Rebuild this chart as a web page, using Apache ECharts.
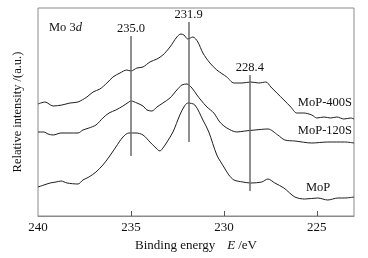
<!DOCTYPE html>
<html>
<head>
<meta charset="utf-8">
<script src="https://cdn.jsdelivr.net/npm/echarts@6/dist/echarts.min.js"></script>
<style>
  html, body { margin: 0; padding: 0; background: #fff; }
  #main { width: 368px; height: 258px; }
</style>
</head>
<body>
<div id="main"></div>
<script>
// 结合能 (eV) 与相对强度 (任意单位)
var e400 = [240.00, 239.62, 239.19, 238.71, 238.28, 237.85, 237.37, 237.04, 236.67, 236.29, 235.97, 235.59, 235.22, 235.00,
            234.68, 234.35, 233.98, 233.60, 233.28, 232.90, 232.53, 232.31, 232.15, 231.94, 231.67, 231.40, 231.13, 230.75,
            230.38, 229.84, 229.46, 229.03, 228.55, 228.12, 227.74, 227.47, 227.15, 226.77, 226.40, 226.08, 225.70, 225.27,
            225.00, 224.62, 224.25, 223.92, 223.55, 223.17, 223.00];
var i400 = [112, 114, 110, 111, 113, 114, 119, 124, 127, 133, 139, 143, 146, 145,
            148, 149, 154, 157, 161, 169, 179, 182, 181, 177, 179, 174, 163, 153,
            146, 139, 133, 133, 134, 133, 134, 129, 123, 116, 109, 103, 103, 101,
            98, 99, 98, 99, 97, 98, 97];

var e120 = [240.00, 239.68, 239.46, 239.19, 238.76, 238.33, 237.85, 237.58, 237.26, 236.88, 236.51, 236.18, 235.81, 235.43,
            235.11, 235.00, 234.68, 234.35, 234.14, 233.87, 233.60, 233.28, 232.90, 232.53, 232.26, 231.99, 231.72, 231.45,
            231.24, 230.91, 230.54, 230.22, 229.84, 229.30, 228.87, 228.33, 227.63, 227.10, 226.72, 226.18, 225.27, 224.41,
            223.50, 223.00];
var i120 = [84, 84, 82, 81, 83, 83, 83, 86, 88, 91, 98, 103, 106, 110,
            114, 115, 113, 110, 106, 105, 109, 113, 118, 126, 131, 132, 128, 121,
            116, 109, 103, 94, 88, 84, 85, 86, 87, 81, 76, 75, 73, 74,
            74, 73];

var eMoP = [240.00, 239.68, 239.35, 239.03, 238.76, 238.44, 237.85, 237.58, 237.26, 236.88, 236.51, 236.18, 235.81, 235.43,
            235.11, 234.73, 234.35, 233.98, 233.71, 233.44, 233.28, 233.06, 232.74, 232.37, 232.15, 231.94, 231.56, 231.13,
            230.81, 230.38, 230.00, 229.73, 229.46, 228.98, 228.55, 227.96, 227.63, 227.26, 226.77, 226.18, 225.65, 224.95,
            224.41, 223.87, 223.50, 223.00];
var iMoP = [29, 31, 33, 34, 35, 33, 32, 36, 39, 44, 51, 59, 69, 79,
            83, 83, 81, 74, 69, 65, 68, 74, 84, 101, 109, 113, 111, 96,
            84, 61, 49, 41, 36, 34, 33, 34, 37, 33, 28, 19, 17, 18,
            16, 18, 18, 19];

// 峰位标线
var peakPos = [235.0, 231.9, 228.6];
var peakText = ['235.0', '231.9', '228.4'];
var peakTop = [180, 194, 141];
var peakBottom = [60, 74, 25];

function pairs(xs, ys) {
    var out = [];
    for (var i = 0; i < xs.length; i++) {
        out.push([xs[i], ys[i]]);
    }
    return out;
}

var peakLines = [];
for (var k = 0; k < peakPos.length; k++) {
    peakLines.push([
        { coord: [peakPos[k], peakTop[k]], label: { formatter: peakText[k] } },
        { coord: [peakPos[k], peakBottom[k]] }
    ]);
}

var serif = '"Liberation Serif", "DejaVu Serif", serif';
var curve = { color: '#1e1e1e', width: 1 };

var myChart = echarts.init(document.getElementById('main'));
myChart.setOption({
    animation: false,
    textStyle: { fontFamily: serif },
    grid: {
        left: 38, right: 14, top: 8, bottom: 42,
        show: true, borderColor: '#8a8a8a', borderWidth: 1
    },
    xAxis: {
        type: 'value',
        inverse: true,
        min: 223,
        max: 240,
        name: '{n|Binding energy}    {i|E} {n|/eV}',
        nameLocation: 'middle',
        nameGap: 21,
        nameTextStyle: {
            rich: {
                n: { fontFamily: serif, fontSize: 13, color: '#111' },
                i: { fontFamily: serif, fontSize: 13, color: '#111', fontStyle: 'italic' }
            }
        },
        axisLine: { show: true, lineStyle: { color: '#8a8a8a' } },
        axisTick: { show: true, inside: true, length: 5, customValues: [225, 230, 235], lineStyle: { color: '#555' } },
        axisLabel: { customValues: [225, 230, 235, 240], fontFamily: serif, fontSize: 13, color: '#111', margin: 5 },
        splitLine: { show: false }
    },
    yAxis: {
        type: 'value',
        min: 0,
        max: 208,
        name: 'Relative intensity /(a.u.)',
        nameLocation: 'middle',
        nameGap: 14,
        nameTextStyle: { fontFamily: serif, fontSize: 12.5, color: '#111' },
        axisLine: { show: false },
        axisTick: { show: false },
        axisLabel: { show: false },
        splitLine: { show: false }
    },
    series: [
        {
            name: 'MoP-400S',
            type: 'line',
            data: pairs(e400, i400),
            symbol: 'none',
            smooth: 0.3,
            lineStyle: curve,
            z: 3,
            markLine: {
                silent: true,
                symbol: ['none', 'none'],
                lineStyle: { color: '#6a6a6a', width: 1.5, type: 'solid' },
                label: {
                    show: true,
                    position: 'start',
                    distance: 1,
                    fontFamily: serif,
                    fontSize: 12.5,
                    color: '#111'
                },
                data: peakLines
            }
        },
        {
            name: 'MoP-120S',
            type: 'line',
            data: pairs(e120, i120),
            symbol: 'none',
            smooth: 0.3,
            lineStyle: curve,
            z: 3
        },
        {
            name: 'MoP',
            type: 'line',
            data: pairs(eMoP, iMoP),
            symbol: 'none',
            smooth: 0.3,
            lineStyle: curve,
            z: 3
        }
    ],
    graphic: [
        {
            type: 'text', left: 49, top: 21,
            style: {
                text: '{a|Mo 3}{b|d}',
                rich: {
                    a: { fontFamily: serif, fontSize: 12.5, fill: '#111' },
                    b: { fontFamily: serif, fontSize: 12.5, fill: '#111', fontStyle: 'italic' }
                }
            }
        },
        { type: 'text', right: 16, top: 96, style: { text: 'MoP-400S', font: '12.5px ' + serif, fill: '#111' } },
        { type: 'text', right: 16, top: 124, style: { text: 'MoP-120S', font: '12.5px ' + serif, fill: '#111' } },
        { type: 'text', left: 306, top: 181, style: { text: 'MoP', font: '12.5px ' + serif, fill: '#111' } }
    ]
});
</script>
</body>
</html>
